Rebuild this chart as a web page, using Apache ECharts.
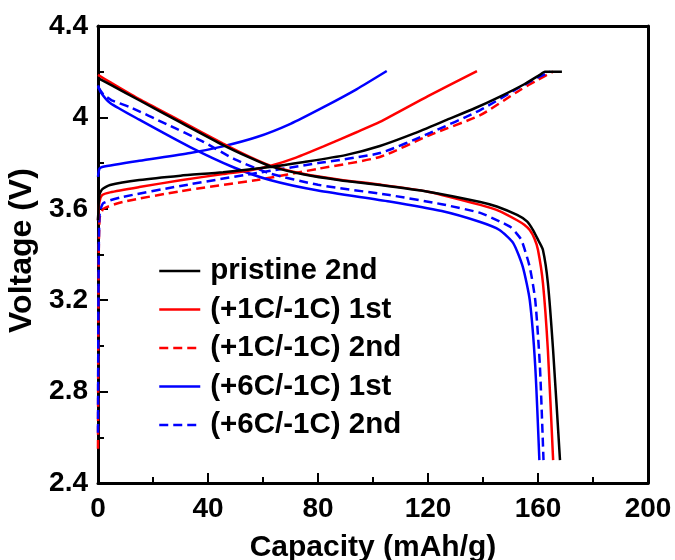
<!DOCTYPE html>
<html>
<head>
<meta charset="utf-8">
<script src="https://cdn.jsdelivr.net/npm/echarts@6/dist/echarts.min.js"></script>
<style>html,body{margin:0;padding:0;background:#fff}#c{width:675px;height:560px}</style>
</head>
<body>
<div id="c"></div>
<script>
// ---- data (capacity mAh/g, voltage V) ----
const seriesNames = ['pristine 2nd', '(+1C/-1C) 1st', '(+1C/-1C) 2nd', '(+6C/-1C) 1st', '(+6C/-1C) 2nd'];
const xTickLabels = ['0', '40', '80', '120', '160', '200'];
const yTickLabels = ['2.4', '2.8', '3.2', '3.6', '4', '4.4'];

const pristineCharge = [[0,3.55],[0.5,3.66],[1.5,3.685],[4.4,3.704],[15,3.726],[30,3.745],[45.5,3.76],[62.5,3.783],[75,3.805],[90,3.835],[102.5,3.875],[115,3.93],[127,3.99],[137,4.04],[146,4.09],[155,4.145],[160.5,4.185],[162.5,4.2],[168.7,4.2]];
const pristineDischarge = [[0,4.172],[5,4.14],[15,4.075],[30,3.978],[45.5,3.879],[55,3.825],[62.5,3.787],[75,3.75],[88,3.725],[102.5,3.704],[120,3.675],[139,3.63],[145,3.61],[152.4,3.573],[156,3.545],[158.2,3.507],[160.2,3.46],[161.8,3.42],[163.6,3.275],[165.5,2.98],[168,2.5]];

const c1Charge = [[0,3.55],[0.5,3.63],[1.5,3.66],[4.4,3.672],[15,3.695],[30,3.725],[45.5,3.752],[55,3.768],[62.5,3.787],[72,3.824],[82,3.873],[94,3.935],[102.5,3.98],[120,4.093],[137.8,4.203]];
const c1Discharge = [[0,4.186],[5,4.15],[15,4.08],[30,3.985],[45.5,3.885],[55,3.828],[62.5,3.79],[75,3.752],[88,3.727],[102.5,3.706],[120,3.675],[139,3.617],[146,3.59],[152.4,3.55],[155,3.53],[157,3.507],[158.7,3.47],[160,3.42],[161.8,3.275],[163.6,2.98],[165.5,2.5]];

const c1bCharge = [[0,2.55],[0.2,3.3],[0.6,3.56],[2,3.6],[9,3.63],[30,3.677],[57.8,3.726],[80,3.775],[102.5,3.827],[120.7,3.923],[139,4.01],[153.5,4.12],[160,4.165],[165.5,4.2]];

const c6Charge = [[0,3.74],[0.5,3.775],[1.5,3.783],[15,3.81],[33.5,3.844],[45,3.872],[57.8,3.914],[70,3.972],[82,4.045],[94,4.123],[105,4.203]];
const c6Discharge = [[0,4.14],[1,4.11],[4.4,4.063],[15,3.99],[33.5,3.87],[49,3.783],[62.5,3.726],[80,3.68],[106,3.632],[125,3.59],[139,3.542],[146,3.507],[151,3.45],[154.5,3.345],[157,3.2],[159,2.91],[160.5,2.5]];

const c6bCharge = [[0,2.62],[0.2,3.3],[0.6,3.58],[2,3.625],[9,3.652],[30,3.7],[57.8,3.757],[80,3.8],[102.5,3.844],[120.7,3.932],[139,4.032],[153.5,4.133],[160,4.175],[164.4,4.2]];
const c6bDischarge = [[0,4.133],[2,4.1],[5,4.075],[11.6,4.045],[25,3.97],[38,3.895],[50,3.815],[62.5,3.755],[80,3.705],[106,3.66],[125,3.62],[139,3.582],[146,3.545],[150,3.52],[152,3.495],[154,3.463],[157,3.345],[159,3.2],[160.7,2.91],[162,2.5]];

// ---- chart ----
const FONT = 'Liberation Sans';
const join = (a, b) => b ? a.concat([['-', '-']], b) : a;
function mk(name, color, dashed, a, b, z) {
  return {
    name: name, type: 'line', data: join(a, b), symbol: 'none', showSymbol: false,
    connectNulls: false, z: z, smooth: 0.2,
    lineStyle: { color: color, width: 2.5, type: dashed ? [9, 5] : 'solid' },
    itemStyle: { color: color }
  };
}
const chart = echarts.init(document.getElementById('c'), null, { renderer: 'canvas' });
const axisFont = { fontFamily: FONT, fontWeight: 'bold', fontSize: 28, color: '#000' };
chart.setOption({
  animation: false,
  backgroundColor: '#fff',
  grid: { left: 98, right: 27, top: 26, bottom: 77, containLabel: false, outerBoundsMode: 'none' },
  legend: {
    data: seriesNames, orient: 'vertical', left: 153, top: 251,
    itemWidth: 41, itemHeight: 14, itemGap: 8.5,
    itemStyle: { opacity: 0, borderWidth: 0 },
    lineStyle: { width: 2.5 },
    textStyle: Object.assign({}, axisFont, { fontSize: 29.5, lineHeight: 28, padding: [0, 0, 0, 5] })
  },
  xAxis: [{
    type: 'value', min: 0, max: 200, interval: 40,
    name: 'Capacity (mAh/g)', nameLocation: 'middle', nameGap: 50,
    nameTextStyle: Object.assign({}, axisFont, { fontSize: 30 }),
    axisLine: { show: true, onZero: false, lineStyle: { color: '#000', width: 3 } },
    axisTick: { show: true, inside: true, length: 10, lineStyle: { color: '#000', width: 2 } },
    minorTick: { show: true, splitNumber: 2, length: 6, lineStyle: { color: '#000', width: 2 } },
    axisLabel: Object.assign({}, axisFont, { margin: 12, formatter: (v, i) => xTickLabels[i] }),
    splitLine: { show: false }
  }, {
    type: 'value', position: 'top', min: 0, max: 200,
    axisLine: { show: true, onZero: false, lineStyle: { color: '#000', width: 3 } },
    axisTick: { show: false }, axisLabel: { show: false }, splitLine: { show: false }
  }],
  yAxis: [{
    type: 'value', min: 2.4, max: 4.4, interval: 0.4,
    name: 'Voltage (V)', nameLocation: 'middle', nameGap: 55,
    nameTextStyle: Object.assign({}, axisFont, { fontSize: 32, padding: [0, 0, 0, 8] }),
    axisLine: { show: true, onZero: false, lineStyle: { color: '#000', width: 3 } },
    axisTick: { show: true, inside: true, length: 10, lineStyle: { color: '#000', width: 2 } },
    minorTick: { show: true, splitNumber: 2, length: 6, lineStyle: { color: '#000', width: 2 } },
    axisLabel: Object.assign({}, axisFont, { margin: 10, formatter: (v, i) => yTickLabels[i] }),
    splitLine: { show: false }
  }, {
    type: 'value', position: 'right', min: 2.4, max: 4.4,
    axisLine: { show: true, onZero: false, lineStyle: { color: '#000', width: 3 } },
    axisTick: { show: false }, axisLabel: { show: false }, splitLine: { show: false }
  }],
  series: [
    mk(seriesNames[2], '#ff0000', true, c1bCharge, null, 1),
    mk(seriesNames[4], '#0000ff', true, c6bCharge, c6bDischarge, 2),
    mk(seriesNames[3], '#0000ff', false, c6Charge, c6Discharge, 3),
    mk(seriesNames[1], '#ff0000', false, c1Charge, c1Discharge, 4),
    mk(seriesNames[0], '#000000', false, pristineCharge, pristineDischarge, 5)
  ]
});
</script>
</body>
</html>
